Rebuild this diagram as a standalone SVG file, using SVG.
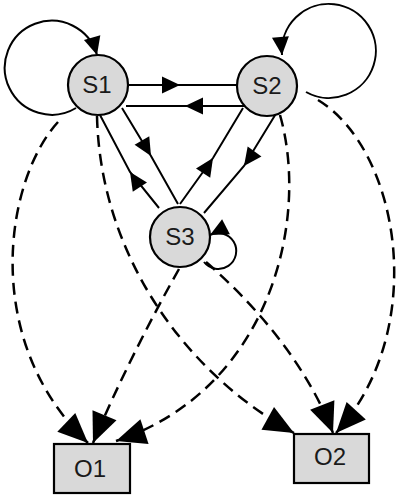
<svg xmlns="http://www.w3.org/2000/svg" width="409" height="496" viewBox="0 0 409 496">
<style>
.node{fill:#d9d9d9;stroke:#000;stroke-width:2.2}
.lbl{font-family:"Liberation Sans",Arial,sans-serif;font-size:24px;fill:#1a1a1a;text-anchor:middle;dominant-baseline:central}
.solid{fill:none;stroke:#000;stroke-width:2}
.dash{fill:none;stroke:#000;stroke-width:2.5;stroke-dasharray:12 7}
</style>
<defs>
<marker id="a" markerUnits="userSpaceOnUse" markerWidth="19" markerHeight="17" refX="18" refY="8.5" orient="auto" overflow="visible">
<path d="M0,0 L18,8.5 L0,17 z" fill="#000"/>
</marker>
<marker id="b" markerUnits="userSpaceOnUse" markerWidth="31" markerHeight="26" refX="30" refY="13" orient="auto" overflow="visible">
<path d="M0,0 L30,13 L0,26 z" fill="#000"/>
</marker>
</defs>
<g id="connectors">
<path class="solid" d="M76 108 A47 47 0 1 1 97 55" marker-end="url(#a)"/>
<path class="solid" d="M306 92 A47 47 0 1 0 282 55" marker-end="url(#a)"/>
<path class="solid" d="M204 262 A18 18 0 1 0 210 235" marker-end="url(#a)"/>
<path class="solid" d="M128 85 L180 85 L237 85" marker-mid="url(#a)"/>
<path class="solid" d="M244 106 L185 106 L126 106" marker-mid="url(#a)"/>
<path class="solid" d="M122 108 L151 156 L178 204" marker-mid="url(#a)"/>
<path class="solid" d="M159 208 L130 172 L100 115" marker-mid="url(#a)"/>
<path class="solid" d="M180 204 L213 158 L243 108" marker-mid="url(#a)"/>
<path class="solid" d="M277 112 L244 166 L204 213" marker-mid="url(#a)"/>
<path class="dash" d="M58 122 C5 180 -20 340 88 443" marker-end="url(#b)"/>
<path class="dash" d="M179 269 C150 320 115 390 93 443" marker-end="url(#b)"/>
<path class="dash" d="M280 115 C310 220 270 390 116 441" marker-end="url(#b)"/>
<path class="dash" d="M97 116 C100 250 180 370 294 433" marker-end="url(#b)"/>
<path class="dash" d="M206 262 C250 300 305 360 333 433" marker-end="url(#b)"/>
<path class="dash" d="M318 100 C400 150 430 330 336 433" marker-end="url(#b)"/>
</g>
<g id="S1"><circle class="node" cx="98" cy="85" r="30"/><text class="lbl" x="97" y="84">S1</text></g>
<g id="S2"><circle class="node" cx="267" cy="86" r="30"/><text class="lbl" x="267" y="85">S2</text></g>
<g id="S3"><circle class="node" cx="180" cy="237" r="30"/><text class="lbl" x="180" y="236">S3</text></g>
<g id="O1"><rect class="node" x="54" y="444" width="76" height="49"/><text class="lbl" x="90" y="468">O1</text></g>
<g id="O2"><rect class="node" x="294" y="434" width="75" height="49"/><text class="lbl" x="330" y="456">O2</text></g>
</svg>
